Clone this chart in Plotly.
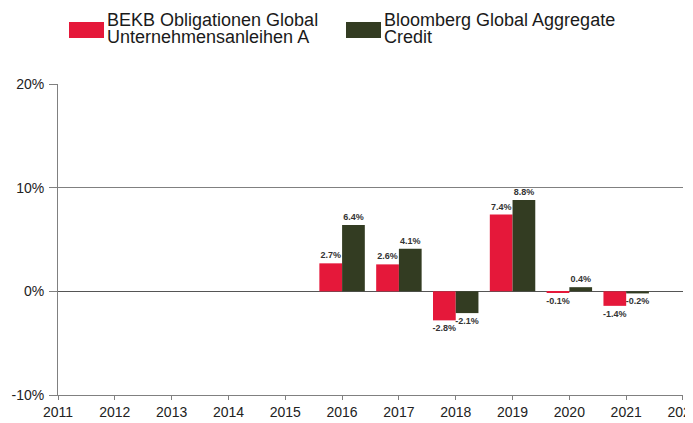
import plotly.graph_objects as go

years = [2016, 2017, 2018, 2019, 2020, 2021]
fund = [2.7, 2.6, -2.8, 7.4, -0.1, -1.4]
bench = [6.4, 4.1, -2.1, 8.8, 0.4, -0.2]
names = ["BEKB Obligationen Global<br>Unternehmensanleihen A", "Bloomberg Global Aggregate<br>Credit"]
colors = ["#E5183A", "#333C22"]
y_ticks = [-10, 0, 10, 20]
y_labels = ["-10%", "0%", "10%", "20%"]
x_ticks = list(range(2011, 2023))

# page body has an 8px margin; compensate so the plot lands where the reference has it
OFF = 8
W, H = 693 - OFF, 423 - OFF
PL, PR, PT, PB = 58, 683, 84, 395   # plot area in page pixels
ml, mt = PL - OFF, PT - OFF
mr, mb = (W + OFF) - PR, (H + OFF) - PB

fig = go.Figure()
for name, vals, col in zip(names, [fund, bench], colors):
    fig.add_trace(go.Bar(
        x=years, y=vals, name=name.replace("<br>", " "), marker=dict(color=col, line=dict(width=0)),
        text=[f"{v:.1f}%" for v in vals], textposition="outside",
        textfont=dict(family="Arial, Liberation Sans", size=9, color="#333333", weight="bold"),
        cliponaxis=False, showlegend=False,
    ))

fig.update_layout(
    width=W, height=H, margin=dict(l=ml, r=mr, t=mt, b=mb, autoexpand=False),
    paper_bgcolor="white", plot_bgcolor="white",
    barmode="group", bargap=0.2, bargroupgap=0,
    font=dict(family="Arial, Liberation Sans", color="#222222"),
    uniformtext=dict(minsize=9, mode="show"),
)
fig.update_xaxes(
    range=[2010.9999, 2022.0001], tickmode="array", tickvals=x_ticks, ticktext=[str(t) for t in x_ticks],
    showgrid=False, zeroline=False, showline=True, linecolor="#808080", linewidth=1,
    ticks="outside", ticklen=4, tickcolor="#808080", tickfont=dict(size=14, color="#222222"),
    ticklabeloverflow="allow", automargin=False,
)
fig.update_yaxes(
    range=[-10, 20], tickmode="array", tickvals=y_ticks, ticktext=y_labels,
    showgrid=True, gridcolor="#808080", gridwidth=1,
    zeroline=True, zerolinecolor="#555555", zerolinewidth=1,
    showline=True, linecolor="#808080", linewidth=1,
    ticks="outside", ticklen=8, tickcolor="#808080", tickfont=dict(size=14, color="#222222"),
    ticklabelstandoff=2, ticklabeloverflow="allow", automargin=False,
)

# Custom legend (wide swatches, tight two-line text), positioned in page pixels
def py(p):
    return (PB - p) / (PB - PT)
def px(p):
    return (p - PL) / (PR - PL)

legend_x = [69, 346]
for lx, name, col in zip(legend_x, names, colors):
    fig.add_shape(type="rect", xref="paper", yref="paper",
                  x0=px(lx), x1=px(lx + 35), y0=py(38), y1=py(22),
                  fillcolor=col, line=dict(width=0))
    for i, line in enumerate(name.split("<br>")):
        fig.add_annotation(xref="paper", yref="paper", x=px(lx + 37), y=py(20 + 17 * i),
                           text=line, showarrow=False, xanchor="left", yanchor="middle",
                           borderpad=0, font=dict(size=18, color="#1a1a1a"))

fig.write_html("out.html")
